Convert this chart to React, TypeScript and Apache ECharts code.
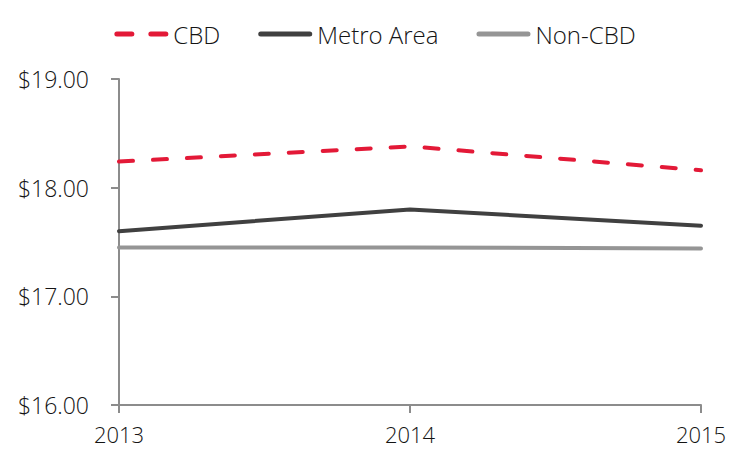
import React, { useEffect, useRef } from "react";
import * as echarts from "echarts";

const years = ["2013", "2014", "2015"];
const cbd = [18.24, 18.38, 18.16];
const metro = [17.6, 17.8, 17.65];
const nonCbd = [17.45, 17.45, 17.44];
const yTicks = { min: 16, max: 19, interval: 1 };

const FONT = "Open Sans";
const DASH_ICON =
  "path://M2.5,0H17.5A2.5,2.5 0 0 1 17.5,5H2.5A2.5,2.5 0 0 1 2.5,0Z M36.5,0H51.5A2.5,2.5 0 0 1 51.5,5H36.5A2.5,2.5 0 0 1 36.5,0Z";
const SOLID_ICON = "path://M2.5,0H51.5A2.5,2.5 0 0 1 51.5,5H2.5A2.5,2.5 0 0 1 2.5,0Z";

export default function App() {
  const ref = useRef<HTMLDivElement>(null);
  useEffect(() => {
    if (!ref.current) return;
    const chart = echarts.init(ref.current, undefined, { renderer: "svg" });
    chart.setOption({
      animation: false,
      textStyle: { fontFamily: FONT },
      legend: {
        top: 17,
        left: "center",
        itemWidth: 54,
        itemHeight: 5,
        itemGap: 38,
        textStyle: { fontSize: 24, fontWeight: 300, color: "#141414", fontFamily: FONT },
        data: [
          { name: "CBD", icon: DASH_ICON },
          { name: "Metro Area", icon: SOLID_ICON },
          { name: "Non-CBD", icon: SOLID_ICON },
        ],
      },
      grid: { left: 119, right: 49, top: 79, bottom: 58, containLabel: false },
      xAxis: {
        type: "category",
        data: years,
        boundaryGap: false,
        axisLine: { lineStyle: { color: "#8c8c8c", width: 2 } },
        axisTick: { alignWithLabel: true, length: 8, lineStyle: { color: "#8c8c8c", width: 2 } },
        axisLabel: { fontSize: 22, fontWeight: 300, color: "#141414", margin: 18, fontFamily: FONT },
      },
      yAxis: {
        type: "value",
        min: yTicks.min,
        max: yTicks.max,
        interval: yTicks.interval,
        splitLine: { show: false },
        axisLine: { show: true, lineStyle: { color: "#8c8c8c", width: 2 } },
        axisTick: { show: true, length: 8, lineStyle: { color: "#8c8c8c", width: 2 } },
        axisLabel: {
          fontSize: 23,
          fontWeight: 300,
          color: "#141414",
          margin: 30,
          fontFamily: FONT,
          formatter: (v: number) => "$" + v.toFixed(2),
        },
      },
      series: [
        {
          name: "CBD",
          type: "line",
          data: cbd,
          symbol: "none",
          lineStyle: { color: "#e31937", width: 4, type: [14, 20], cap: "round" },
          itemStyle: { color: "#e31937" },
        },
        {
          name: "Metro Area",
          type: "line",
          data: metro,
          symbol: "none",
          lineStyle: { color: "#404040", width: 4, cap: "round" },
          itemStyle: { color: "#404040" },
        },
        {
          name: "Non-CBD",
          type: "line",
          data: nonCbd,
          symbol: "none",
          lineStyle: { color: "#959595", width: 4, cap: "round" },
          itemStyle: { color: "#959595" },
        },
      ],
    });
    return () => chart.dispose();
  }, []);
  return <div ref={ref} style={{ width: 750, height: 463, position: "absolute", left: 0, top: 0 }} />;
}
